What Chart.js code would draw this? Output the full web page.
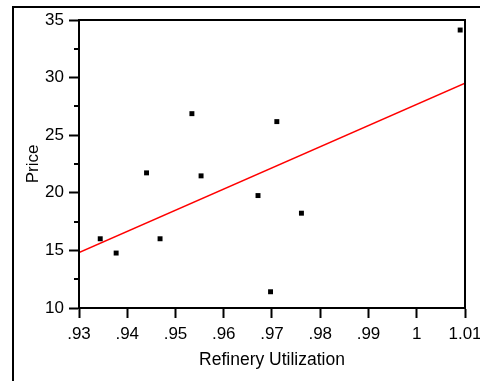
<!DOCTYPE html>
<html>
<head>
<meta charset="utf-8">
<title>Price vs Refinery Utilization</title>
<script src="https://cdn.jsdelivr.net/npm/chart.js@4/dist/chart.umd.min.js"></script>
<style>
  html, body { margin: 0; padding: 0; background: #fff; }
  canvas { display: block; }
</style>
</head>
<body>
<canvas id="chart" width="480" height="381"></canvas>
<script>
// Observations: refinery utilization rate and price
const utilization = [0.9344, 0.9377, 0.9440, 0.9468, 0.9534, 0.9553, 0.9671, 0.9697, 0.9710, 0.9761, 1.0090];
const price       = [16.01, 14.77, 21.73, 16.01, 26.87, 21.47, 19.76, 11.41, 26.18, 18.23, 34.13];

// Least-squares fit line, endpoints at the axis limits
const fitX = [0.93, 1.01];
const fitY = [14.82, 29.51];

// Axis ticks
const xTickValues = [0.93, 0.94, 0.95, 0.96, 0.97, 0.98, 0.99, 1.00, 1.01];
const xTickLabels = ['.93', '.94', '.95', '.96', '.97', '.98', '.99', '1', '1.01'];
const yTickValues = [10, 15, 20, 25, 30, 35];
const yTickLabels = ['10', '15', '20', '25', '30', '35'];
const yMinorTicks = [12.5, 17.5, 22.5, 27.5, 32.5];

const FONT = '"Liberation Sans", Arial, sans-serif';

// Frame around the plot, outer box, and the short minor ticks on the y axis
const framePlugin = {
  id: 'frame',
  afterDraw(chart) {
    const ctx = chart.ctx;
    const a = chart.chartArea;
    const ys = chart.scales.y;
    ctx.save();
    ctx.strokeStyle = '#000';
    ctx.lineWidth = 2;
    ctx.beginPath();
    ctx.rect(a.left, a.top, a.right - a.left, a.bottom - a.top);
    ctx.stroke();
    // outer box
    ctx.beginPath();
    ctx.moveTo(13, chart.height);
    ctx.lineTo(13, 7);
    ctx.lineTo(chart.width, 7);
    ctx.stroke();
    // minor ticks
    ctx.beginPath();
    yMinorTicks.forEach(v => {
      const p = Math.round(ys.getPixelForValue(v));
      ctx.moveTo(a.left - 5, p);
      ctx.lineTo(a.left, p);
    });
    ctx.stroke();
    ctx.restore();
  }
};

new Chart(document.getElementById('chart'), {
  type: 'scatter',
  data: {
    datasets: [
      {
        type: 'scatter',
        data: utilization.map((x, i) => ({ x, y: price[i] })),
        pointStyle: 'rect',
        pointRadius: 3.5,
        pointBackgroundColor: '#000',
        pointBorderWidth: 0,
        order: 1
      },
      {
        type: 'line',
        data: fitX.map((x, i) => ({ x, y: fitY[i] })),
        borderColor: '#ff0000',
        borderWidth: 1.5,
        pointRadius: 0,
        fill: false,
        order: 2
      }
    ]
  },
  options: {
    responsive: false,
    animation: false,
    devicePixelRatio: 1,
    layout: { padding: { left: 0, top: 20, right: 15, bottom: 0 } },
    plugins: { legend: { display: false }, tooltip: { enabled: false } },
    scales: {
      x: {
        type: 'linear',
        min: 0.93,
        max: 1.01,
        afterBuildTicks(scale) { scale.ticks = xTickValues.map(v => ({ value: v })); },
        afterFit(scale) { scale.height = 73; scale.paddingLeft = 0; scale.paddingRight = 0; },
        grid: { drawOnChartArea: false, drawTicks: true, tickLength: 10, tickColor: '#000', tickWidth: 2 },
        border: { display: true, color: '#000', width: 2 },
        ticks: {
          color: '#000',
          padding: 6,
          maxRotation: 0,
          autoSkip: false,
          font: { family: FONT, size: 17 },
          callback: (v, i) => xTickLabels[i]
        },
        title: {
          display: true,
          text: 'Refinery Utilization',
          color: '#000',
          font: { family: FONT, size: 17.5 },
          padding: { top: 0, bottom: 10 }
        }
      },
      y: {
        type: 'linear',
        min: 10,
        max: 35,
        afterBuildTicks(scale) { scale.ticks = yTickValues.map(v => ({ value: v })); },
        afterFit(scale) { scale.width = 79; },
        grid: { drawOnChartArea: false, drawTicks: true, tickLength: 10, tickColor: '#000', tickWidth: 2 },
        border: { display: true, color: '#000', width: 2 },
        ticks: {
          color: '#000',
          padding: 5,
          autoSkip: false,
          font: { family: FONT, size: 17 },
          callback: (v, i) => yTickLabels[i]
        },
        title: {
          display: true,
          text: 'Price',
          color: '#000',
          font: { family: FONT, size: 17 },
          padding: { top: 23, bottom: 0 }
        }
      }
    }
  },
  plugins: [framePlugin]
});
</script>
</body>
</html>
